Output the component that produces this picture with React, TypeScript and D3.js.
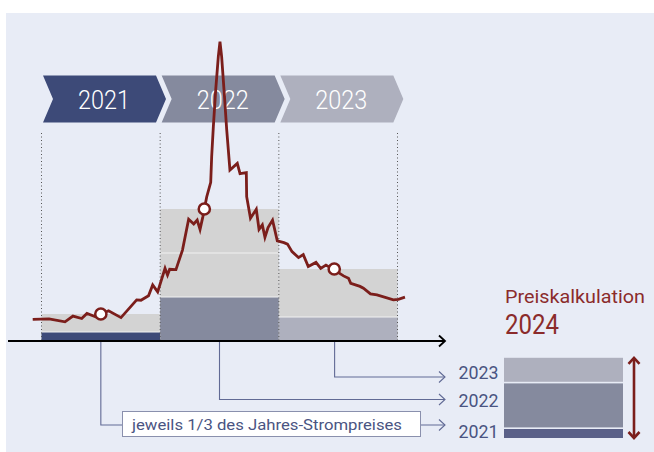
import React from 'react';
import * as d3 from 'd3';

// ---- data ----
const years = ['2021', '2022', '2023'];
const yearStarts = [2021, 2022, 2023];
const yearAverages = [90, 440, 240];
const yearThirdLines = [[1], [1, 2], [1]];
const yearColors = ['#3D4A78', '#858A9E', '#AEB0BE'];
const stackColors = ['#5A6088', '#858A9E', '#AEB0BE'];

const priceDates = [
  2020.926, 2021.063, 2021.198, 2021.265, 2021.339, 2021.383, 2021.455, 2021.565, 2021.67,
  2021.802, 2021.838, 2021.902, 2021.937, 2021.979, 2022.041, 2022.062, 2022.08, 2022.133,
  2022.188, 2022.24, 2022.283, 2022.312, 2022.336, 2022.359, 2022.392, 2022.426, 2022.434,
  2022.448, 2022.468, 2022.49, 2022.504, 2022.518, 2022.538, 2022.561, 2022.588, 2022.65,
  2022.673, 2022.726, 2022.729, 2022.761, 2022.81, 2022.833, 2022.861, 2022.883, 2022.909,
  2022.947, 2022.987, 2023.043, 2023.073, 2023.111, 2023.166, 2023.206, 2023.248, 2023.313,
  2023.353, 2023.397, 2023.467, 2023.545, 2023.587, 2023.606, 2023.684, 2023.713, 2023.772,
  2023.827, 2023.965, 2024.007, 2024.063,
];
const priceValues = [
  72, 74, 64, 83, 75, 92, 81, 101, 78,
  137, 136, 151, 187, 164, 242, 220, 239, 238,
  303, 406, 390, 403, 372, 413, 480, 529, 614,
  714, 837, 948, 998, 948, 837, 703, 570, 592,
  558, 561, 481, 409, 439, 372, 387, 346, 378,
  403, 334, 328, 323, 298, 278, 288, 248, 262,
  242, 253, 237, 217, 209, 192, 182, 176, 157,
  154, 137, 139, 146,
];
const markerDates = [2021.5, 2022.372, 2023.467];
const connectorDates = [2021.5, 2022.5, 2023.47];

const BG = '#E8ECF6';
const RED = '#7B1E1B';
const NAVY_TXT = '#4A5482';
const CONN = '#616A95';
const FONT = 'Roboto, "DejaVu Sans", sans-serif';

export default function App() {
  const x = d3.scaleLinear().domain([2021, 2024]).range([41.5, 397.5]);
  const y = d3.scaleLinear().domain([0, 1000]).range([341, 41]);
  const h = (v: number) => y(0) - y(v);

  const pts = priceDates.map((d, i) => [d, priceValues[i]] as [number, number]);
  const line = d3
    .line<[number, number]>()
    .x((d) => x(d[0]))
    .y((d) => y(d[1]));

  const chevH = 47;
  const chevTop = 75.5;
  const notch = 10;
  const chevW = 113;
  const chevron = (x0: number) => {
    const p = d3.path();
    p.moveTo(x0, chevTop);
    p.lineTo(x0 + chevW, chevTop);
    p.lineTo(x0 + chevW + notch, chevTop + chevH / 2);
    p.lineTo(x0 + chevW, chevTop + chevH);
    p.lineTo(x0, chevTop + chevH);
    p.lineTo(x0 + notch, chevTop + chevH / 2);
    p.closePath();
    return p.toString();
  };

  // connector targets (rows for 2021, 2022, 2023)
  const rowY = [425, 399.5, 377];
  const arrowX = 445;

  // right stack
  const stackX = 504;
  const stackW = 119;
  const stackBottom = 438;
  const gap = 1.6;
  let acc = stackBottom;
  const stackRects = yearAverages.map((v, i) => {
    const hh = h(v / 3);
    const r = { y: acc - hh, h: hh, color: stackColors[i] };
    acc = acc - hh - gap;
    return r;
  });
  const stackTop = stackRects[2].y;

  const openHead = (tx: number, ty: number, color: string, sw = 1.2) => (
    <path
      d={`M${tx - 6},${ty - 5.5} L${tx},${ty} L${tx - 6},${ty + 5.5}`}
      fill="none"
      stroke={color}
      strokeWidth={sw}
    />
  );

  return (
    <div style={{ position: 'absolute', left: 0, top: 0 }}>
      <svg width={654} height={452} style={{ display: 'block' }}>
        <rect x={0} y={0} width={654} height={452} fill="#fff" />
        <rect x={6} y={13} width={648} height={439} fill={BG} />

        {/* chevrons */}
        {years.map((yr, i) => {
          const x0 = x(yearStarts[i]) + 1.5;
          return (
            <g key={'ch' + yr}>
              <path d={chevron(x0)} fill={yearColors[i]} />
              <text
                x={x0 + 61}
                y={108.5}
                fill="#fff"
                fontFamily={FONT}
                fontWeight={300}
                fontSize={26}
                textAnchor="middle"
                textLength={52}
                lengthAdjust="spacingAndGlyphs"
              >
                {yr}
              </text>
            </g>
          );
        })}

        {/* year boxes */}
        {years.map((yr, i) => {
          const x0 = x(yearStarts[i]);
          const x1 = x(yearStarts[i] + 1);
          const avg = yearAverages[i];
          return (
            <g key={'box' + yr}>
              <rect x={x0} y={y(avg)} width={x1 - x0} height={h(avg)} fill="#D3D3D3" />
              <rect x={x0} y={y(avg / 3)} width={x1 - x0} height={h(avg / 3)} fill={yearColors[i]} />
              {yearThirdLines[i].map((k) => (
                <line
                  key={k}
                  x1={x0}
                  x2={x1}
                  y1={y((avg * k) / 3)}
                  y2={y((avg * k) / 3)}
                  stroke="#F2F2F2"
                  strokeWidth={1.2}
                />
              ))}
            </g>
          );
        })}

        {/* dotted year separators */}
        {[2021, 2022, 2023, 2024].map((d) => (
          <line
            key={'dot' + d}
            x1={x(d)}
            x2={x(d)}
            y1={133}
            y2={341}
            stroke="#555"
            strokeWidth={1}
            strokeDasharray="1 2.5"
          />
        ))}

        {/* axis */}
        <line x1={8} x2={arrowX} y1={y(0)} y2={y(0)} stroke="#000" strokeWidth={2} />
        {openHead(arrowX, y(0), '#000', 1.8)}

        {/* connectors */}
        {connectorDates.map((d, i) => (
          <g key={'conn' + i}>
            <path
              d={`M${x(d)},${y(0) + 1} L${x(d)},${rowY[i]} L${arrowX},${rowY[i]}`}
              fill="none"
              stroke={CONN}
              strokeWidth={1.1}
            />
            {openHead(arrowX, rowY[i], CONN, 1.1)}
          </g>
        ))}

        {/* label box */}
        <rect x={122.5} y={411.5} width={298} height={25} fill="#fff" stroke="#8A90AD" strokeWidth={1} />
        <text
          x={132}
          y={430}
          fill={NAVY_TXT}
          fontFamily={FONT}
          fontSize={15.5}
          textLength={270}
          lengthAdjust="spacingAndGlyphs"
        >
          jeweils 1/3 des Jahres-Strompreises
        </text>

        {/* price line */}
        <path d={line(pts) || ''} fill="none" stroke={RED} strokeWidth={2.8} strokeLinejoin="miter" strokeMiterlimit={4} />

        {/* markers */}
        {markerDates.map((d, i) => (
          <circle key={'m' + i} cx={x(d)} cy={y(yearAverages[i])} r={5.6} fill="#fff" stroke={RED} strokeWidth={2.5} />
        ))}

        {/* right side */}
        <text x={505} y={302.5} fill="#8B2B2B" fontFamily={FONT} fontSize={18.5} textLength={140} lengthAdjust="spacingAndGlyphs">
          Preiskalkulation
        </text>
        <text x={505} y={334.3} fill="#8B2B2B" fontFamily={FONT} fontSize={27} textLength={54} lengthAdjust="spacingAndGlyphs">
          2024
        </text>

        {stackRects.map((r, i) => (
          <rect key={'st' + i} x={stackX} y={r.y} width={stackW} height={r.h} fill={r.color} />
        ))}

        {[437.7, 406.7, 378.5].map((ty, i) => (
          <text
            key={'yl' + i}
            x={498.5}
            y={ty}
            fill={NAVY_TXT}
            fontFamily={FONT}
            fontSize={19}
            textAnchor="end"
            textLength={40}
            lengthAdjust="spacingAndGlyphs"
          >
            {years[i]}
          </text>
        ))}

        {/* double arrow */}
        <line x1={634} x2={634} y1={stackTop + 1} y2={stackBottom - 1} stroke={RED} strokeWidth={2.6} />
        <path
          d={`M${628.5},${stackTop + 6} L634,${stackTop} L${639.5},${stackTop + 6}`}
          fill="none"
          stroke={RED}
          strokeWidth={2.6}
        />
        <path
          d={`M${628.5},${stackBottom - 6} L634,${stackBottom} L${639.5},${stackBottom - 6}`}
          fill="none"
          stroke={RED}
          strokeWidth={2.6}
        />
      </svg>
    </div>
  );
}
